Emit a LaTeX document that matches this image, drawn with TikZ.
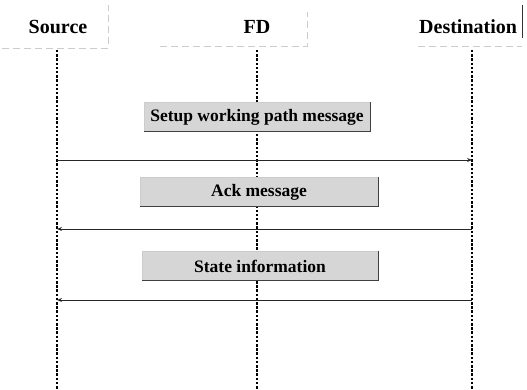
\documentclass[tikz,border=0pt]{standalone}
\usepackage{fontspec}
\setmainfont{Liberation Serif}
\usetikzlibrary{arrows.meta}
\begin{document}
\begin{tikzpicture}[x=1pt,y=-1pt,
  header/.style={font=\bfseries\fontsize{20}{24}\selectfont, inner sep=0pt},
  hedge/.style={draw=gray!40, line width=0.6pt, dash pattern=on 7pt off 4pt},
  lifeline/.style={line width=2.5pt, dash pattern=on 2.5pt off 1.7pt},
  msgbox/.style={fill=gray!32, draw=gray!40, line width=0.6pt, minimum width=#1, minimum height=29pt,
    font=\bfseries\fontsize{17.5}{20}\selectfont, inner sep=0pt},
  msg/.style={draw=black!85, line width=0.9pt, -{Stealth[open,length=5pt,width=4pt]}}
]
\useasboundingbox (0,0) rectangle (527,390);

% column headers
\node[header] (src) at (58,27) {Source};
\node[header] (fd)  at (257,27) {FD};
\node[header, anchor=west] (dst) at (419,27) {Destination};

% faint header frames (right and bottom edges only)
\draw[hedge] (2,48) -- (108,48) -- (108,5);
\draw[hedge] (160,46) -- (307,46) -- (307,12);
\draw[hedge] (418,46) -- (522,46);
\draw[black!80, line width=0.8pt] (522,5) -- (522,38);

% lifelines
\coordinate (srcTop) at (57,50);  \coordinate (srcEnd) at (57,390);
\coordinate (fdTop)  at (257,50); \coordinate (fdEnd)  at (257,390);
\coordinate (dstTop) at (472,50); \coordinate (dstEnd) at (472,390);
\draw[lifeline] (srcTop) -- (srcEnd);
\draw[lifeline] (fdTop) -- (fdEnd);
\draw[lifeline] (dstTop) -- (dstEnd);

% message labels
\node[msgbox=226pt] (m1) at (257,117) {Setup working path message};
\node[msgbox=238pt] (m2) at (259,192) {Ack message};
\node[msgbox=236pt] (m3) at (260,266) {State information};
\draw[black!75, line width=1pt] (m1.north east) -- (m1.south east) -- (m1.south west);
\draw[black!75, line width=1pt] (m2.north east) -- (m2.south east) -- (m2.south west);
\draw[black!75, line width=1pt] (m3.north east) -- (m3.south east) -- (m3.south west);

% message arrows
\coordinate (s1) at (57,160);  \coordinate (d1) at (472,160);
\coordinate (s2) at (57,229);  \coordinate (d2) at (472,229);
\coordinate (s3) at (57,300);  \coordinate (d3) at (472,300);
\draw[msg] (s1) -- (d1);
\draw[msg] (d2) -- (s2);
\draw[msg] (d3) -- (s3);
\end{tikzpicture}
\end{document}
